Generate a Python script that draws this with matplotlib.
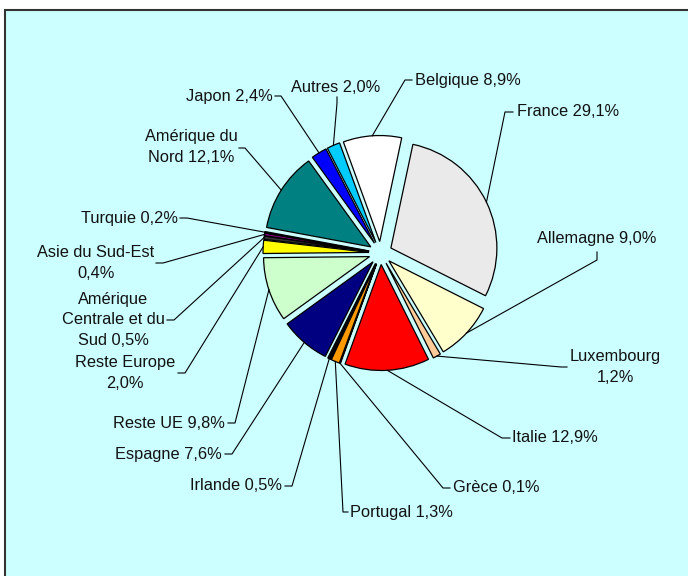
import numpy as np
import matplotlib.pyplot as plt
from matplotlib.patches import Rectangle

plt.rcParams['font.family'] = ['Liberation Sans', 'DejaVu Sans']

# parts par pays, dans l'ordre des secteurs (sens horaire depuis le haut)
pays = ['France {}', 'Allemagne {}', 'Luxembourg\n{}', 'Italie {}', 'Grèce {}',
        'Portugal {}', 'Irlande {}', 'Espagne {}', 'Reste UE {}', 'Reste Europe\n{}',
        'Amérique\nCentrale et du\nSud {}', 'Asie du Sud-Est\n{}', 'Turquie {}',
        'Amérique du\nNord {}', 'Japon {}', 'Autres {}', 'Belgique {}']
parts = [29.1, 9.0, 1.2, 12.9, 0.1, 1.3, 0.5, 7.6, 9.8, 2.0, 0.5, 0.4, 0.2, 12.1, 2.4, 2.0, 8.9]
couleurs = ['#EAEAEA', '#FFFFCC', '#FFCC99', '#FF0000', '#FFFFFF', '#FF9900', '#000000',
            '#000080', '#CCFFCC', '#FFFF00', '#333333', '#800080', '#000000', '#008080',
            '#0000FF', '#00CCFF', '#FFFFFF']

W, H = 688, 576
def Y(y):
    return H - y

# position des étiquettes (pixels image): texte x, y, alignement, coude x, y, bout du trait x, y
etiq = [
    (517, 112, 'left', 505, 112, 513, 112),
    (597, 238, 'center', 597, 260, 597, 252),
    (615, 367, 'center', 561, 367, 567, 367),
    (512, 438, 'left', 502, 438, 510, 438),
    (453, 488, 'left', 443, 488, 450, 488),
    (350, 512, 'left', 343, 512, 348, 512),
    (282, 486, 'right', 292, 486, 285, 486),
    (222, 454, 'right', 232, 454, 225, 454),
    (225, 423, 'right', 235, 423, 228, 423),
    (125, 373, 'center', 185, 373, 178, 373),
    (113, 320, 'center', 174, 320, 167, 320),
    (96, 263, 'center', 163, 263, 156, 263),
    (178, 218, 'right', 187, 218, 180, 218),
    (191, 147, 'center', 245, 148, 239, 148),
    (273, 96, 'right', 281, 96, 275, 96),
    (336, 87, 'center', 337, 103, 337, 97),
    (415, 80, 'left', 405, 80, 412, 80),
]

fig = plt.figure(figsize=(6.88, 5.76), dpi=100)
ax = fig.add_axes([0, 0, 1, 1])
ax.add_patch(Rectangle((5, -10), 700, Y(10) + 10, facecolor='#CCFFFF',
                       edgecolor='#333333', linewidth=1.5, zorder=0))

R, ecart = 106, 11.5
wedges, _ = ax.pie(parts, colors=couleurs, startangle=78, counterclock=False,
                   radius=R, center=(380.5, Y(253)), explode=[ecart] * len(parts),
                   wedgeprops=dict(edgecolor='black', linewidth=0.9))

for w, nom, v, (tx, ty, ha, ex, ey, bx, by) in zip(wedges, pays, parts, etiq):
    mid = np.deg2rad((w.theta1 + w.theta2) / 2)
    ax_x = w.center[0] + w.r * np.cos(mid)
    ax_y = w.center[1] + w.r * np.sin(mid)
    ax.plot([ax_x, ex, bx], [ax_y, Y(ey), Y(by)], color='black', linewidth=0.8, zorder=3)
    txt = nom.format(f'{v:.1f}'.replace('.', ',') + '%')
    ax.text(tx, Y(ty), txt, ha=ha, va='center', multialignment='center',
            fontsize=11.8, linespacing=1.42, color='#111111')

ax.set_xlim(0, W)
ax.set_ylim(0, H)
ax.set_aspect('equal')
ax.axis('off')

fig.savefig('out.png', dpi=100)
